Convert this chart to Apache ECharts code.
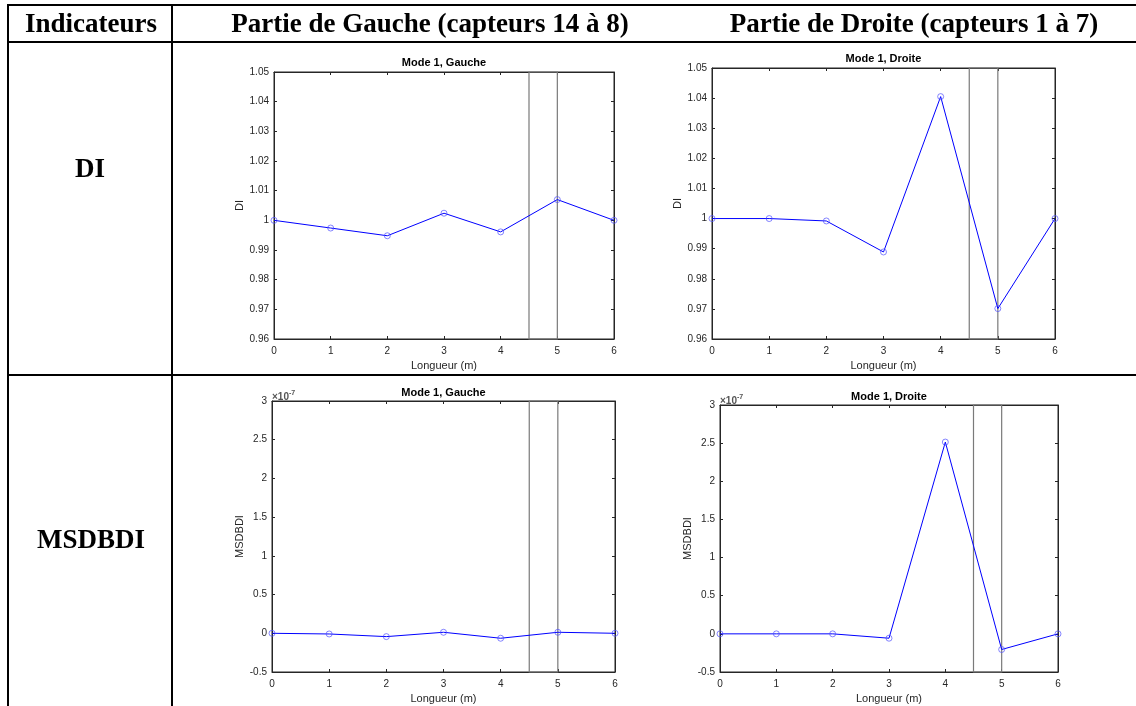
<!DOCTYPE html>
<html lang="fr">
<head>
    <meta charset="UTF-8">
    <title>Indicateurs DI / MSDBDI</title>
    <script src="https://cdn.jsdelivr.net/npm/echarts@6/dist/echarts.min.js"></script>
    <style>
        html, body { margin: 0; padding: 0; background: #fff; }
        #chart { width: 1136px; height: 706px; }
    </style>
</head>
<body>
<div id="chart"></div>
<script>
    // positions des capteurs (m)
    var longueur = [0, 1, 2, 3, 4, 5, 6];
    // DI, mode 1
    var diGauche = [1.0, 0.9974, 0.9948, 1.0024, 0.9961, 1.0070, 1.0];
    var diDroite = [1.0, 1.0, 0.9992, 0.9889, 1.0405, 0.9701, 1.0];
    // MSDBDI, mode 1 (valeurs en x1e-7)
    var msdbdiGauche = [0, -0.009, -0.043, 0.013, -0.064, 0.013, 0];
    var msdbdiDroite = [0, 0, 0, -0.057, 2.514, -0.205, 0];
    // zone endommagée
    var zone = [4.5, 5];
    var titres = ['Mode 1, Gauche', 'Mode 1, Droite', 'Mode 1, Gauche', 'Mode 1, Droite'];
    var entetes = ['Indicateurs', 'Partie de Gauche (capteurs 14 à 8)', 'Partie de Droite (capteurs 1 à 7)'];
    var lignes = ['DI', 'MSDBDI'];

    var mychart = echarts.init(document.getElementById('chart'));

    var axeCouleur = '#262626';
    var grilles = [
        {left: 274, top: 72, width: 340, height: 267, titreY: 57},
        {left: 712, top: 68, width: 343, height: 271, titreY: 53},
        {left: 272, top: 401, width: 343, height: 271, titreY: 387},
        {left: 720, top: 405, width: 338, height: 267, titreY: 391}
    ];
    var yConf = [
        {name: 'DI', min: 0.96, max: 1.05, interval: 0.01, gap: 28, data: diGauche},
        {name: 'DI', min: 0.96, max: 1.05, interval: 0.01, gap: 29, data: diDroite},
        {name: 'MSDBDI', min: -0.5, max: 3, interval: 0.5, gap: 16, data: msdbdiGauche},
        {name: 'MSDBDI', min: -0.5, max: 3, interval: 0.5, gap: 24, data: msdbdiDroite}
    ];

    var xAxis = [], yAxis = [], series = [], title = [], grid = [];

    function fmt(v) {
        return String(+v.toFixed(2));
    }

    for (var i = 0; i < 4; i++) {
        var g = grilles[i];
        grid.push({left: g.left, top: g.top, width: g.width, height: g.height,
            show: true, borderColor: axeCouleur, borderWidth: 1, backgroundColor: '#fff'});
        // axe du bas
        xAxis.push({
            type: 'value', gridIndex: i, min: 0, max: 6, interval: 1,
            name: 'Longueur (m)', nameLocation: 'middle', nameGap: 21,
            nameTextStyle: {fontFamily: 'Liberation Sans', fontSize: 11, color: axeCouleur},
            axisLine: {show: true, onZero: false, lineStyle: {color: axeCouleur}},
            axisTick: {show: true, inside: true, length: 3, lineStyle: {color: axeCouleur}},
            axisLabel: {fontFamily: 'Liberation Sans', fontSize: 10, color: axeCouleur, margin: 7},
            splitLine: {show: false}
        });
        // axe du haut (graduations seules)
        xAxis.push({
            type: 'value', gridIndex: i, min: 0, max: 6, interval: 1, position: 'top',
            axisLine: {show: true, onZero: false, lineStyle: {color: axeCouleur}},
            axisTick: {show: true, inside: true, length: 3, lineStyle: {color: axeCouleur}},
            axisLabel: {show: false}, splitLine: {show: false}
        });
        var c = yConf[i];
        yAxis.push({
            type: 'value', gridIndex: i, min: c.min, max: c.max, interval: c.interval,
            name: c.name, nameLocation: 'middle', nameGap: c.gap,
            nameTextStyle: {fontFamily: 'Liberation Sans', fontSize: 11, color: axeCouleur},
            axisLine: {show: true, onZero: false, lineStyle: {color: axeCouleur}},
            axisTick: {show: true, inside: true, length: 3, lineStyle: {color: axeCouleur}},
            axisLabel: {fontFamily: 'Liberation Sans', fontSize: 10, color: axeCouleur, margin: 5, formatter: fmt},
            splitLine: {show: false}
        });
        yAxis.push({
            type: 'value', gridIndex: i, min: c.min, max: c.max, interval: c.interval, position: 'right',
            axisLine: {show: true, onZero: false, lineStyle: {color: axeCouleur}},
            axisTick: {show: true, inside: true, length: 3, lineStyle: {color: axeCouleur}},
            axisLabel: {show: false}, splitLine: {show: false}
        });

        var pts = [];
        for (var k = 0; k < longueur.length; k++) {
            pts.push([longueur[k], c.data[k]]);
        }
        series.push({
            type: 'line', xAxisIndex: 2 * i, yAxisIndex: 2 * i,
            data: pts, symbol: 'circle', symbolSize: 6,
            lineStyle: {color: '#0000ff', width: 1},
            itemStyle: {color: 'rgba(255,255,255,0)', borderColor: '#5050ff', borderWidth: 0.7},
            animation: false,
            markArea: {
                silent: true,
                itemStyle: {color: 'rgba(0,0,0,0)', borderColor: '#7a7a7a', borderWidth: 1.2},
                data: [[{xAxis: zone[0]}, {xAxis: zone[1]}]]
            }
        });

        title.push({
            text: titres[i], padding: 0,
            left: g.left + g.width / 2, textAlign: 'center',
            top: g.titreY,
            textStyle: {fontFamily: 'Liberation Sans', fontSize: 11, fontWeight: 'bold', color: '#000'}
        });
        if (i >= 2) {
            title.push({
                text: '×10{sup|-7}', padding: 0,
                left: g.left, top: g.top - 11,
                textStyle: {fontFamily: 'Liberation Sans', fontSize: 10, color: '#555',
                    rich: {sup: {fontSize: 7, color: '#555', verticalAlign: 'top', padding: [0, 0, 7, 0]}}}
            });
        }
    }

    // tableau : lignes et textes
    var trait = {stroke: '#000', lineWidth: 2};
    var police = 'bold 27px "Liberation Serif", serif';
    function texte(t, x, y) {
        return {type: 'text', x: x, y: y,
            style: {text: t, font: police, fill: '#000', textAlign: 'center', textVerticalAlign: 'middle'}};
    }
    var graphic = [
        {type: 'line', shape: {x1: 7, y1: 5, x2: 1136, y2: 5}, style: trait},
        {type: 'line', shape: {x1: 7, y1: 42, x2: 1136, y2: 42}, style: trait},
        {type: 'line', shape: {x1: 7, y1: 375, x2: 1136, y2: 375}, style: trait},
        {type: 'line', shape: {x1: 8, y1: 4, x2: 8, y2: 706}, style: trait},
        {type: 'line', shape: {x1: 172, y1: 4, x2: 172, y2: 706}, style: trait},
        texte(entetes[0], 91, 25),
        texte(entetes[1], 430, 25),
        texte(entetes[2], 914, 25),
        texte(lignes[0], 90, 170),
        texte(lignes[1], 91, 541)
    ];

    var option = {
        animation: false,
        backgroundColor: '#fff',
        title: title,
        grid: grid,
        xAxis: xAxis,
        yAxis: yAxis,
        series: series,
        graphic: graphic
    };
    mychart.setOption(option);
</script>
</body>
</html>
